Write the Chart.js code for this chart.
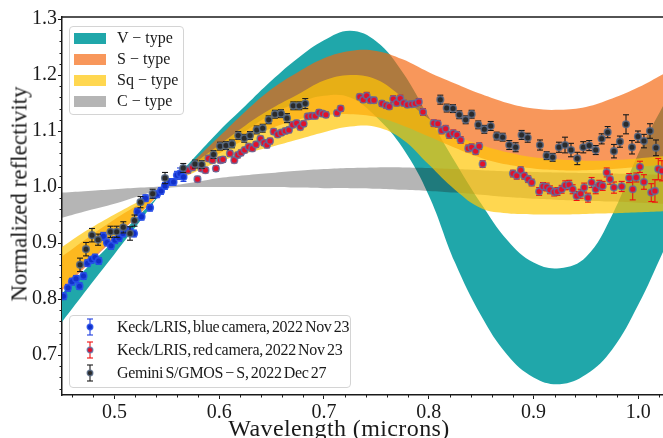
<!DOCTYPE html>
<html>
<head>
<meta charset="utf-8">
<script src="https://cdn.jsdelivr.net/npm/chart.js@4.4.1/dist/chart.umd.min.js"></script>
<style>
  body { margin: 0; background: #fff; }
  #wrap { position: relative; width: 663px; height: 438px; overflow: hidden; font-family: 'Liberation Serif', serif; color: #1a1a1a; }
  #chart { position: absolute; left: 0; top: 0; }
  .box { position: absolute; background: rgba(255,255,255,0.92); border: 1px solid #d4d4d4; border-radius: 4px; }
  .patch { position: absolute; left: 74px; width: 32px; height: 11px; }
  .ltext { position: absolute; left: 117px; font-size: 16px; line-height: 1; white-space: nowrap; transform: translateY(-50%); }
  .obs { font-size: 16px; letter-spacing: -0.3px; word-spacing: -1.5px; }
  .mark { position: absolute; left: 84px; }
  #xtitle { position: absolute; left: 339px; top: 416px; font-size: 24px; letter-spacing: 0.4px; line-height: 1; white-space: nowrap; transform: translateX(-50%); }
  #ytitle { position: absolute; left: 19px; top: 194px; font-size: 23px; line-height: 1; white-space: nowrap; transform: translate(-50%, -50%) rotate(-90deg); }
</style>
</head>
<body>
<div id="wrap">
  <canvas id="chart" width="663" height="438"></canvas>
  <div id="xtitle">Wavelength (microns)</div>
  <div id="ytitle">Normalized reflectivity</div>
  <div id="legendTypes"></div>
  <div id="legendObs"></div>
</div>
<script>
// wavelength grid of the taxonomic envelopes
const bandWave = [0.45, 0.475, 0.5, 0.525, 0.55, 0.575, 0.6, 0.625, 0.65, 0.675, 0.7, 0.725,
                  0.75, 0.775, 0.8, 0.825, 0.85, 0.875, 0.9, 0.925, 0.95, 0.975, 1.0, 1.025];

// V-type
const vTypeLow  = [0.759, 0.82, 0.88, 0.94, 1.0, 1.035, 1.07, 1.10, 1.13, 1.15, 1.163, 1.16,
                   1.125, 1.07, 0.985, 0.865, 0.77, 0.70, 0.66, 0.648, 0.665, 0.71, 0.79, 0.89];
const vTypeHigh = [0.81, 0.858, 0.905, 0.952, 1.0, 1.05, 1.10, 1.145, 1.19, 1.23, 1.262, 1.279,
                   1.26, 1.205, 1.125, 1.045, 0.97, 0.905, 0.865, 0.855, 0.875, 0.95, 1.06, 1.15];
// S-type
const sTypeLow  = [0.815, 0.862, 0.908, 0.953, 1.0, 1.035, 1.06, 1.085, 1.105, 1.12, 1.128, 1.13,
                   1.125, 1.11, 1.09, 1.07, 1.052, 1.04, 1.033, 1.03, 1.03, 1.032, 1.036, 1.04];
const sTypeHigh = [0.876, 0.91, 0.942, 0.971, 1.0, 1.045, 1.09, 1.135, 1.175, 1.205, 1.23, 1.243,
                   1.243, 1.228, 1.205, 1.185, 1.166, 1.15, 1.14, 1.138, 1.143, 1.158, 1.178, 1.203];
// Sq-type
const sqTypeLow  = [0.82, 0.866, 0.911, 0.955, 1.0, 1.025, 1.045, 1.06, 1.072, 1.085, 1.098, 1.108,
                    1.107, 1.085, 1.04, 0.995, 0.962, 0.953, 0.951, 0.951, 0.952, 0.953, 0.955, 0.957];
const sqTypeHigh = [0.893, 0.924, 0.951, 0.976, 1.0, 1.04, 1.075, 1.11, 1.14, 1.165, 1.19, 1.2,
                    1.192, 1.16, 1.122, 1.093, 1.075, 1.062, 1.053, 1.049, 1.047, 1.048, 1.051, 1.055];
// C-type
const cTypeLow  = [0.945, 0.958, 0.97, 0.985, 0.998, 1.0, 1.0, 1.0, 1.0, 0.999, 0.998, 0.998,
                   0.997, 0.995, 0.993, 0.99, 0.986, 0.982, 0.979, 0.977, 0.975, 0.974, 0.972, 0.97];
const cTypeHigh = [0.99, 0.993, 0.996, 0.999, 1.002, 1.008, 1.016, 1.021, 1.025, 1.029, 1.032, 1.034,
                   1.035, 1.035, 1.034, 1.032, 1.03, 1.028, 1.027, 1.026, 1.025, 1.024, 1.023, 1.022];

// Keck/LRIS blue camera
const blueWave = [0.4514, 0.4557, 0.4595, 0.4634, 0.4667, 0.4705, 0.4743, 0.4781, 0.4815, 0.4850,
                  0.4894, 0.4929, 0.4968, 0.5006, 0.5044, 0.5082, 0.5115, 0.5149, 0.5187, 0.5220,
                  0.5259, 0.5297, 0.5340, 0.5373, 0.5406, 0.5445, 0.5483, 0.5530, 0.5564, 0.5597,
                  0.5626, 0.5659];
const blueRefl = [0.805, 0.820, 0.831, 0.836, 0.823, 0.841, 0.864, 0.870, 0.874, 0.868,
                  0.912, 0.901, 0.895, 0.905, 0.909, 0.917, 0.923, 0.920, 0.917, 0.956,
                  0.947, 0.980, 0.963, 0.986, 0.987, 0.993, 1.002, 1.009, 1.009, 1.021,
                  1.024, 1.018];
const blueErr  = [0.006, 0.006, 0.006, 0.006, 0.006, 0.006, 0.006, 0.006, 0.006, 0.006,
                  0.007, 0.006, 0.006, 0.006, 0.006, 0.006, 0.006, 0.006, 0.006, 0.006,
                  0.006, 0.006, 0.006, 0.006, 0.006, 0.006, 0.006, 0.006, 0.006, 0.007,
                  0.010, 0.008];

// Keck/LRIS red camera
const redWave = [0.5702, 0.5745, 0.5793, 0.5831, 0.5869, 0.5898, 0.5936, 0.5969, 0.6012, 0.6036,
                 0.6103, 0.6144, 0.6177, 0.6208, 0.6243, 0.6281, 0.6316, 0.6351, 0.6394, 0.6427,
                 0.6456, 0.6485, 0.6520, 0.6558, 0.6593, 0.6631, 0.6666, 0.6701, 0.6739, 0.6774,
                 0.6806, 0.6844, 0.6881, 0.6917, 0.6952, 0.6986, 0.7019, 0.7124, 0.7159, 0.7341,
                 0.7375, 0.7407, 0.7442, 0.7477, 0.7553, 0.7592, 0.7623, 0.7661, 0.7694, 0.7728,
                 0.7760, 0.7797, 0.7837, 0.7871, 0.7905, 0.7945, 0.8047, 0.8086, 0.8123, 0.8161,
                 0.8196, 0.8234, 0.8269, 0.8304, 0.8377, 0.8409, 0.8447, 0.8481, 0.8514, 0.8803,
                 0.8839, 0.8877, 0.8911, 0.8949, 0.8982, 0.9053, 0.9090, 0.9125, 0.9156, 0.9197,
                 0.9228, 0.9268, 0.9302, 0.9340, 0.9373, 0.9411, 0.9449, 0.9483, 0.9519, 0.9554,
                 0.9593, 0.9627, 0.9659, 0.9698, 0.9729, 0.9767, 0.9841, 0.9912, 0.9946, 0.9980,
                 1.0015, 1.0053, 1.0123, 1.0158, 1.0190, 1.0225];
const redRefl = [1.030, 1.035, 1.014, 1.033, 1.030, 1.051, 1.048, 1.033, 1.048, 1.049,
                 1.060, 1.048, 1.057, 1.061, 1.066, 1.072, 1.069, 1.076, 1.086, 1.079,
                 1.075, 1.082, 1.099, 1.094, 1.097, 1.100, 1.102, 1.111, 1.114, 1.107,
                 1.113, 1.126, 1.127, 1.127, 1.133, 1.131, 1.129, 1.132, 1.140, 1.161,
                 1.156, 1.163, 1.155, 1.155, 1.149, 1.146, 1.144, 1.157, 1.150, 1.158,
                 1.150, 1.147, 1.148, 1.149, 1.152, 1.134, 1.114, 1.113, 1.101, 1.104,
                 1.093, 1.096, 1.093, 1.084, 1.069, 1.071, 1.064, 1.073, 1.041, 1.024,
                 1.020, 1.030, 1.020, 1.014, 1.008, 0.992, 1.001, 1.000, 0.995, 0.991,
                 0.992, 0.996, 1.003, 1.004, 0.996, 0.984, 0.988, 0.999, 0.981, 1.008,
                 0.996, 1.004, 1.002, 1.026, 1.014, 0.999, 1.001, 1.016, 0.996, 1.017,
                 1.036, 1.009, 0.990, 0.993, 1.032, 1.029];
const redErr  = [0.005, 0.005, 0.005, 0.005, 0.005, 0.005, 0.005, 0.005, 0.005, 0.005,
                 0.005, 0.005, 0.005, 0.005, 0.005, 0.005, 0.005, 0.005, 0.005, 0.005,
                 0.005, 0.005, 0.005, 0.005, 0.005, 0.005, 0.005, 0.005, 0.005, 0.005,
                 0.005, 0.005, 0.005, 0.005, 0.005, 0.005, 0.005, 0.005, 0.005, 0.005,
                 0.005, 0.006, 0.005, 0.005, 0.005, 0.005, 0.005, 0.006, 0.005, 0.006,
                 0.005, 0.005, 0.005, 0.005, 0.006, 0.006, 0.006, 0.006, 0.006, 0.006,
                 0.006, 0.006, 0.006, 0.006, 0.006, 0.006, 0.006, 0.006, 0.006, 0.006,
                 0.006, 0.006, 0.006, 0.006, 0.006, 0.007, 0.007, 0.007, 0.007, 0.007,
                 0.007, 0.007, 0.008, 0.008, 0.008, 0.008, 0.008, 0.008, 0.008, 0.009,
                 0.008, 0.008, 0.008, 0.008, 0.009, 0.010, 0.009, 0.008, 0.019, 0.008,
                 0.010, 0.013, 0.016, 0.020, 0.019, 0.018];

// Gemini S/GMOS-S
const gmosWave = [0.4672, 0.4729, 0.4786, 0.4844, 0.4963, 0.5022, 0.5085, 0.5149, 0.5192, 0.5249,
                  0.5365, 0.5483, 0.5657, 0.5769, 0.5833, 0.5946, 0.6008, 0.6065, 0.6122, 0.6182,
                  0.6239, 0.6294, 0.6358, 0.6415, 0.6472, 0.6532, 0.6590, 0.6647, 0.6707, 0.6764,
                  0.6821, 0.8110, 0.8171, 0.8231, 0.8291, 0.8352, 0.8409, 0.8472, 0.8530, 0.8591,
                  0.8648, 0.8705, 0.8768, 0.8829, 0.8886, 0.8944, 0.9061, 0.9125, 0.9182, 0.9242,
                  0.9300, 0.9357, 0.9417, 0.9474, 0.9531, 0.9593, 0.9650, 0.9707, 0.9767, 0.9824,
                  0.9882, 0.9939, 0.9996, 1.0053, 1.0111, 1.0168];
const gmosRefl = [0.861, 0.889, 0.914, 0.906, 0.920, 0.920, 0.928, 0.917, 0.940, 0.973,
                  0.988, 1.016, 1.034, 1.041, 1.040, 1.058, 1.073, 1.074, 1.077, 1.092,
                  1.087, 1.092, 1.102, 1.105, 1.120, 1.130, 1.131, 1.123, 1.145, 1.145,
                  1.149, 1.156, 1.141, 1.140, 1.129, 1.120, 1.130, 1.111, 1.103, 1.109,
                  1.091, 1.089, 1.075, 1.071, 1.093, 1.088, 1.075, 1.056, 1.053, 1.071,
                  1.075, 1.066, 1.051, 1.071, 1.074, 1.066, 1.086, 1.098, 1.064, 1.081,
                  1.112, 1.071, 1.090, 1.082, 1.100, 1.070];
const gmosErr  = [0.012, 0.012, 0.012, 0.010, 0.010, 0.010, 0.010, 0.012, 0.010, 0.010,
                  0.008, 0.010, 0.008, 0.007, 0.007, 0.007, 0.007, 0.007, 0.007, 0.007,
                  0.007, 0.007, 0.007, 0.007, 0.007, 0.007, 0.007, 0.008, 0.007, 0.007,
                  0.009, 0.008, 0.007, 0.007, 0.007, 0.007, 0.007, 0.007, 0.007, 0.008,
                  0.007, 0.007, 0.008, 0.008, 0.008, 0.008, 0.009, 0.007, 0.007, 0.009,
                  0.014, 0.012, 0.011, 0.010, 0.009, 0.008, 0.009, 0.010, 0.012, 0.010,
                  0.017, 0.012, 0.010, 0.012, 0.013, 0.014];

// axis ticks
const xTicks = [0.5, 0.6, 0.7, 0.8, 0.9, 1.0];
const yTicks = [0.7, 0.8, 0.9, 1.0, 1.1, 1.2, 1.3];

// colours
const TEAL = 'rgb(32,167,170)';
const GRAY = 'rgba(30,30,30,0.33)';
const ORANGE = 'rgba(245,100,10,0.67)';
const GOLD = 'rgba(255,198,5,0.7)';

function toPoints(xs, ys) {
    return xs.map((x, i) => ({ x: x, y: ys[i] }));
}

// vertical bars as separate segments, broken with null points
function errorPoints(xs, ys, es) {
    const pts = [];
    xs.forEach((x, i) => {
        pts.push({ x: x, y: ys[i] - es[i] }, { x: x, y: ys[i] + es[i] }, { x: x, y: null });
    });
    return pts;
}

function band(label, lo, hi, color, order) {
    const common = { type: 'line', borderColor: 'transparent', borderWidth: 0, pointRadius: 0, tension: 0.4, order: order };
    return [
        Object.assign({ label: label + ' low', data: toPoints(bandWave, lo), fill: false }, common),
        Object.assign({ label: label, data: toPoints(bandWave, hi), fill: '-1', backgroundColor: color }, common)
    ];
}

function errorSet(label, xs, ys, es, color, order) {
    return {
        type: 'line', label: label + ' err', data: errorPoints(xs, ys, es),
        borderColor: color, borderWidth: 1.1, tension: 0, spanGaps: false, fill: false,
        pointStyle: 'line', pointRadius: 3, pointBorderWidth: 1.1, pointBorderColor: color,
        order: order
    };
}

function pointSet(label, xs, ys, fillColor, edgeColor, order) {
    return {
        type: 'scatter', label: label, data: toPoints(xs, ys),
        pointRadius: 3.3, pointBackgroundColor: fillColor, pointBorderColor: edgeColor,
        pointBorderWidth: 1.6, order: order
    };
}

// minor ticks and the top spine
const axisExtras = {
    id: 'axisExtras',
    afterDraw(chart) {
        const { ctx, chartArea, scales } = chart;
        ctx.save();
        ctx.strokeStyle = '#1a1a1a';
        ctx.lineWidth = 1.5;
        ctx.beginPath();
        ctx.moveTo(chartArea.left, chartArea.top);
        ctx.lineTo(chartArea.right, chartArea.top);
        ctx.stroke();
        ctx.lineWidth = 1;
        ctx.beginPath();
        for (let k = 64; k <= 130; k += 2) {
            if (k % 10 === 0) continue;
            const py = Math.round(scales.y.getPixelForValue(k / 100)) + 0.5;
            ctx.moveTo(chartArea.left, py);
            ctx.lineTo(chartArea.left - 2.5, py);
        }
        for (let k = 46; k <= 102; k += 2) {
            if (k % 10 === 0) continue;
            const px = Math.round(scales.x.getPixelForValue(k / 100)) + 0.5;
            ctx.moveTo(px, chartArea.bottom);
            ctx.lineTo(px, chartArea.bottom + 2.5);
        }
        ctx.stroke();
        ctx.restore();
    }
};

Chart.defaults.font.family = "'Liberation Serif', serif";
Chart.defaults.color = '#1a1a1a';

const datasets = [].concat(
    band('V - type', vTypeLow, vTypeHigh, TEAL, 40),
    band('C - type', cTypeLow, cTypeHigh, GRAY, 30),
    band('S - type', sTypeLow, sTypeHigh, ORANGE, 20),
    band('Sq - type', sqTypeLow, sqTypeHigh, GOLD, 10),
    [
        errorSet('blue', blueWave, blueRefl, blueErr, '#1f3fe0', 6),
        pointSet('Keck/LRIS, blue camera, 2022 Nov 23', blueWave, blueRefl, '#1230c8', 'rgba(40,80,235,0.85)', 5),
        errorSet('red', redWave, redRefl, redErr, '#f01010', 4),
        pointSet('Keck/LRIS, red camera, 2022 Nov 23', redWave, redRefl, '#e3102a', 'rgba(80,115,170,0.75)', 3),
        errorSet('gmos', gmosWave, gmosRefl, gmosErr, '#1a1a1a', 2),
        pointSet('Gemini S/GMOS - S, 2022 Dec 27', gmosWave, gmosRefl, '#2b2b2b', 'rgba(85,105,135,0.8)', 1)
    ]
);

new Chart(document.getElementById('chart'), {
    type: 'line',
    data: { datasets: datasets },
    options: {
        responsive: false,
        animation: false,
        devicePixelRatio: 1,
        layout: { autoPadding: false, padding: { top: 17, right: 0, left: 0, bottom: 0 } },
        plugins: { legend: { display: false }, tooltip: { enabled: false } },
        scales: {
            x: {
                type: 'linear', min: 0.45, max: 1.0235,
                afterBuildTicks: (axis) => { axis.ticks = xTicks.map(v => ({ value: v })); },
                afterFit: (axis) => { axis.height = 43; axis.paddingLeft = 0; axis.paddingRight = 0; },
                ticks: { font: { size: 20 }, padding: 2, maxRotation: 0, autoSkip: false, callback: v => v.toFixed(1) },
                grid: { drawOnChartArea: false, drawTicks: true, tickLength: 4, color: '#1a1a1a' },
                border: { display: true, color: '#1a1a1a', width: 1.5 }
            },
            y: {
                type: 'linear', min: 0.6286, max: 1.3036,
                afterBuildTicks: (axis) => { axis.ticks = yTicks.map(v => ({ value: v })); },
                afterFit: (axis) => { axis.width = 62; axis.paddingTop = 0; axis.paddingBottom = 0; },
                ticks: { font: { size: 20 }, padding: 1, autoSkip: false, callback: v => v.toFixed(1) },
                grid: { drawOnChartArea: false, drawTicks: true, tickLength: 4, color: '#1a1a1a' },
                border: { display: true, color: '#1a1a1a', width: 1.5 }
            }
        }
    },
    plugins: [axisExtras]
});

// legends drawn as html boxes over the plot
const typeNames = ['V \u2212 type', 'S \u2212 type', 'Sq \u2212 type', 'C \u2212 type'];
const typeColors = [TEAL, ORANGE, GOLD, GRAY];
const typeRows = [38, 59, 80, 101];
let html = '<div class="box" style="left:69px;top:26px;width:113px;height:87px"></div>';
typeNames.forEach((name, i) => {
    html += `<div class="patch" style="top:${typeRows[i] - 5.5}px;background:${typeColors[i]}"></div>`;
    html += `<div class="ltext" style="top:${typeRows[i]}px">${name}</div>`;
});
document.getElementById('legendTypes').innerHTML = html;

const obsNames = ['Keck/LRIS, blue camera, 2022 Nov 23', 'Keck/LRIS, red camera, 2022 Nov 23', 'Gemini S/GMOS \u2212 S, 2022 Dec 27'];
const obsBar = ['#1f3fe0', '#f01010', '#1a1a1a'];
const obsFill = ['#1230c8', '#e3102a', '#2b2b2b'];
const obsEdge = ['rgba(40,80,235,0.85)', 'rgba(80,115,170,0.75)', 'rgba(85,105,135,0.8)'];
const obsRows = [327, 350, 373];
html = '<div class="box" style="left:69px;top:315px;width:280px;height:71px"></div>';
obsNames.forEach((name, i) => {
    const c = obsBar[i];
    html += `<svg class="mark" width="12" height="20" style="top:${obsRows[i] - 10}px">
        <line x1="6" y1="2" x2="6" y2="18" stroke="${c}" stroke-width="1.1"/>
        <line x1="3" y1="2" x2="9" y2="2" stroke="${c}" stroke-width="1.1"/>
        <line x1="3" y1="18" x2="9" y2="18" stroke="${c}" stroke-width="1.1"/>
        <circle cx="6" cy="10" r="2.8" fill="${obsFill[i]}" stroke="${obsEdge[i]}" stroke-width="1.4"/>
      </svg>`;
    html += `<div class="ltext obs" style="top:${obsRows[i]}px">${name}</div>`;
});
document.getElementById('legendObs').innerHTML = html;
</script>
</body>
</html>
